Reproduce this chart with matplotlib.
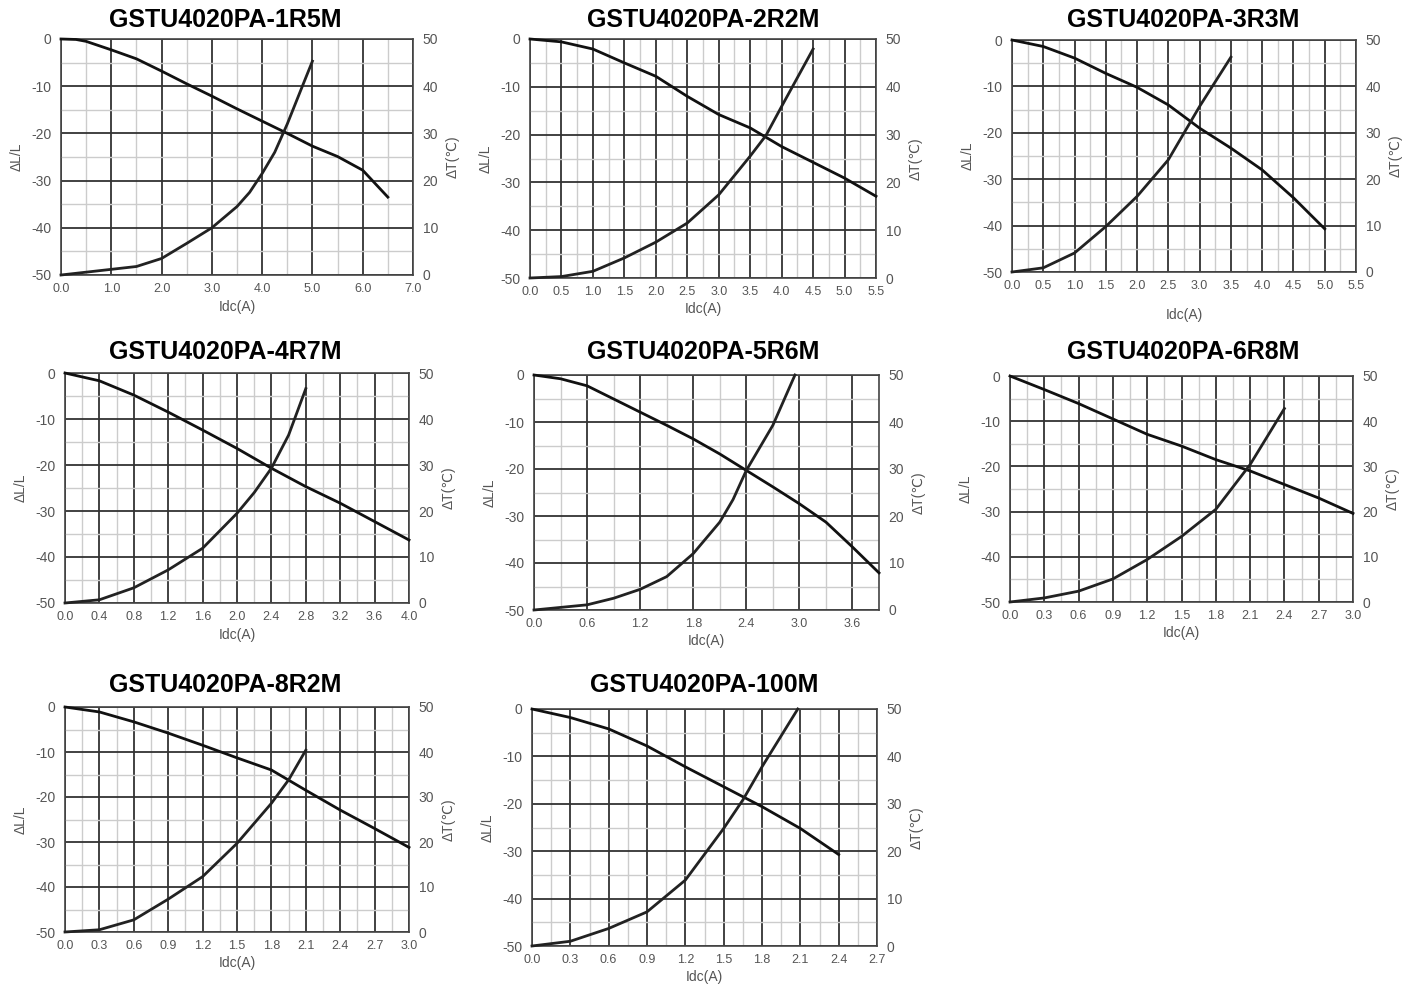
import matplotlib
matplotlib.use("Agg")
import matplotlib.pyplot as plt
from matplotlib.ticker import MultipleLocator

plt.rcParams['font.family'] = ['Liberation Sans', 'DejaVu Sans']
plt.rcParams['axes.unicode_minus'] = False

# part numbers
names = ['GSTU4020PA-1R5M', 'GSTU4020PA-2R2M', 'GSTU4020PA-3R3M',
         'GSTU4020PA-4R7M', 'GSTU4020PA-5R6M', 'GSTU4020PA-6R8M',
         'GSTU4020PA-8R2M', 'GSTU4020PA-100M']

# x range and major grid step of each chart
x_max = [7.0, 5.5, 5.5, 4.0, 3.9, 3.0, 3.0, 2.7]
x_step = [1.0, 0.5, 0.5, 0.4, 0.6, 0.3, 0.3, 0.3]

# inductance drop dL/L (%) vs Idc
l_idc = [
    [0.0, 0.3, 0.5, 1.0, 1.5, 2.0, 2.5, 3.0, 3.5, 4.0, 4.5, 5.0, 5.5, 6.0, 6.5],
    [0.0, 0.5, 1.0, 1.5, 2.0, 2.5, 3.0, 3.5, 4.0, 4.5, 5.0, 5.5],
    [0.0, 0.5, 1.0, 1.5, 2.0, 2.5, 3.0, 3.5, 4.0, 4.5, 5.0],
    [0.0, 0.4, 0.8, 1.2, 1.6, 2.0, 2.4, 2.8, 3.2, 3.6, 4.0],
    [0.0, 0.3, 0.6, 0.9, 1.2, 1.5, 1.8, 2.1, 2.4, 2.7, 3.0, 3.3, 3.6, 3.9],
    [0.0, 0.3, 0.6, 0.9, 1.2, 1.5, 1.8, 2.1, 2.4, 2.7, 3.0],
    [0.0, 0.3, 0.6, 0.9, 1.2, 1.5, 1.8, 2.1, 2.4, 2.7, 3.0],
    [0.0, 0.3, 0.6, 0.9, 1.2, 1.5, 1.8, 2.1, 2.4],
]
l_drop = [
    [0.0, -0.1, -0.5, -2.3, -4.2, -6.8, -9.5, -12.1, -14.8, -17.4, -20.0, -22.7, -24.9, -27.8, -33.5],
    [0.0, -0.6, -2.1, -5.0, -7.8, -12.0, -15.8, -18.6, -22.5, -25.8, -29.1, -32.9],
    [0.0, -1.4, -3.9, -7.2, -10.2, -14.0, -19.0, -23.3, -28.0, -34.0, -40.7],
    [0.0, -1.7, -4.8, -8.5, -12.4, -16.4, -20.7, -24.7, -28.3, -32.3, -36.3],
    [0.0, -0.8, -2.3, -5.1, -7.9, -10.7, -13.6, -16.8, -20.3, -23.8, -27.4, -31.3, -36.6, -42.1],
    [0.0, -3.0, -6.1, -9.5, -12.9, -15.5, -18.5, -21.0, -24.0, -27.0, -30.4],
    [0.0, -1.1, -3.3, -5.8, -8.5, -11.3, -14.0, -18.5, -22.9, -27.0, -31.2],
    [0.0, -1.8, -4.2, -7.8, -12.2, -16.4, -20.6, -25.2, -30.7],
]

# temperature rise dT (C) vs Idc
t_idc = [
    [0.0, 1.0, 1.5, 2.0, 2.5, 3.0, 3.5, 3.75, 4.0, 4.25, 4.5, 4.8, 5.0],
    [0.0, 0.5, 1.0, 1.5, 2.0, 2.5, 3.0, 3.5, 3.75, 4.0, 4.5],
    [0.0, 0.5, 1.0, 1.5, 2.0, 2.5, 3.0, 3.5],
    [0.0, 0.4, 0.8, 1.2, 1.6, 2.0, 2.2, 2.4, 2.6, 2.8],
    [0.0, 0.6, 0.9, 1.2, 1.5, 1.8, 2.1, 2.25, 2.4, 2.7, 2.95],
    [0.0, 0.3, 0.6, 0.9, 1.2, 1.5, 1.8, 2.1, 2.4],
    [0.0, 0.3, 0.6, 0.9, 1.2, 1.5, 1.8, 1.95, 2.1],
    [0.0, 0.3, 0.6, 0.9, 1.2, 1.5, 1.65, 1.8, 2.08],
]
t_rise = [
    [0.0, 1.2, 1.8, 3.5, 6.7, 10.0, 14.5, 17.5, 21.5, 26.0, 32.0, 40.0, 45.3],
    [0.0, 0.3, 1.4, 4.2, 7.5, 11.5, 17.4, 25.5, 29.8, 35.9, 47.9],
    [0.0, 0.9, 4.1, 9.8, 16.3, 24.2, 35.7, 46.3],
    [0.0, 0.7, 3.3, 7.2, 11.9, 19.5, 24.0, 29.3, 36.5, 46.6],
    [0.0, 1.1, 2.5, 4.4, 7.1, 12.0, 18.7, 23.5, 29.7, 39.3, 50.0],
    [0.0, 0.9, 2.4, 5.1, 9.4, 14.5, 20.5, 30.4, 42.8],
    [0.0, 0.5, 2.7, 7.3, 12.3, 19.7, 28.6, 33.8, 40.4],
    [0.0, 1.0, 3.7, 7.2, 13.9, 24.8, 30.8, 37.8, 50.0],
]

# axes boxes in pixels: left, top, right, bottom
boxes = [(61, 39, 413, 275), (530, 39, 876, 278), (1012, 40, 1356, 272),
         (65, 373, 409, 603), (534, 375, 879, 610), (1010, 376, 1353, 602),
         (65, 707, 409, 932), (532, 709, 877, 946)]
title_pos = [(225, 20), (703, 20), (1183, 20),
             (225, 352), (703, 352), (1183, 352),
             (225, 685), (704, 685)]
xlabel_pad = [3, 3, 11, 3, 3, 3, 3, 3]

W, H = 1415, 994
fig = plt.figure(figsize=(W / 100, H / 100), dpi=100)
gray = '#555555'

for i in range(len(names)):
    l, t, r, b = boxes[i]
    ax = fig.add_axes([l / W, 1 - b / H, (r - l) / W, (b - t) / H])
    ax.set_xlim(0, x_max[i])
    ax.set_ylim(-50, 0)
    ax.xaxis.set_major_locator(MultipleLocator(x_step[i]))
    ax.xaxis.set_minor_locator(MultipleLocator(x_step[i] / 2))
    ax.yaxis.set_major_locator(MultipleLocator(10))
    ax.yaxis.set_minor_locator(MultipleLocator(5))
    ax.grid(which='minor', color='#cccccc', lw=1.0)
    ax.grid(which='major', color='#333333', lw=1.3)
    ax.set_axisbelow(True)
    ax.xaxis.set_major_formatter(lambda v, p: f'{v:.1f}')
    ax.tick_params(which='both', length=0, colors=gray)
    ax.tick_params(axis='x', labelsize=9, pad=6)
    ax.tick_params(axis='y', labelsize=10, pad=7)
    for s in ax.spines.values():
        s.set_color('#444444')
        s.set_linewidth(1.2)
    ax.plot(l_idc[i], l_drop[i], color='#111111', lw=2.0, clip_on=False, zorder=3)
    ax.set_xlabel('Idc(A)', color=gray, fontsize=10, labelpad=xlabel_pad[i])
    ax.set_ylabel('ΔL/L', color=gray, fontsize=10, labelpad=5)

    ax2 = ax.twinx()
    ax2.set_ylim(0, 50)
    ax2.yaxis.set_major_locator(MultipleLocator(10))
    ax2.tick_params(length=0, colors=gray, labelsize=10, pad=7)
    for s in ax2.spines.values():
        s.set_visible(False)
    ax2.plot(t_idc[i], t_rise[i], color='#222222', lw=2.0, clip_on=False, zorder=3)
    ax2.set_ylabel('ΔT(℃)', color=gray, fontsize=10, labelpad=5)

    fig.text(title_pos[i][0] / W, 1 - title_pos[i][1] / H, names[i],
             ha='center', va='center', fontsize=18, fontweight='bold')

fig.savefig('out.png', dpi=100)
